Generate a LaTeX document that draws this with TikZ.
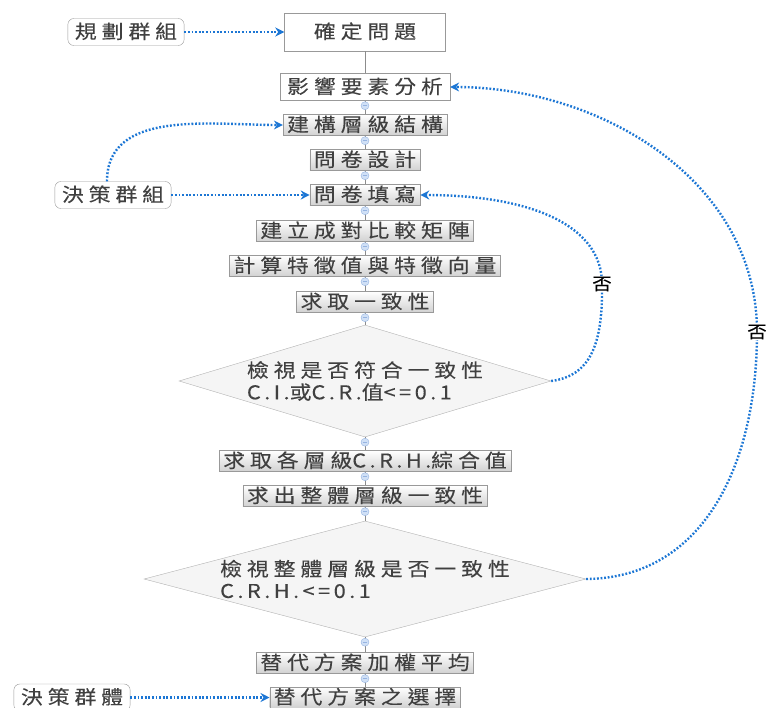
\documentclass[tikz,border=0pt]{standalone}
\usepackage{fontspec}
\setmainfont{Noto Sans CJK TC}[FakeStretch=1.15,LetterSpace=26,FakeBold=0.15]
\newfontfamily\latinpart{Noto Sans CJK TC}[FakeStretch=1.15,LetterSpace=18,FakeBold=0.15]
\usetikzlibrary{shapes.geometric,arrows.meta}
\definecolor{linkblue}{RGB}{28,118,212}
\definecolor{togglefill}{RGB}{208,224,246}
\definecolor{togglerim}{RGB}{150,180,225}
\tikzset{
  box/.style={draw=black!40, top color=white, bottom color=black!18, inner xsep=4pt, inner ysep=2pt,
    text height=15pt, text depth=2pt, minimum height=21pt},
  plain/.style={draw=black!40, fill=white, inner xsep=7pt, text height=15pt, text depth=2pt, minimum height=27pt},
  group/.style={draw=black!40, rounded corners=6pt, fill=white, inner xsep=7pt, text height=15pt, text depth=2pt, minimum height=27pt},
  check/.style={diamond, draw=black!30, fill=black!4, inner sep=0pt, align=left},
  flow/.style={draw=black!45, line width=0.8pt},
  link/.style={draw=linkblue, line width=2.4pt, dash pattern=on 1.8pt off 1.8pt, -{Stealth[length=9pt,width=9pt]}},
  toggle/.style={circle, draw=togglerim, fill=togglefill, minimum size=8pt, inner sep=0pt,
    path picture={\draw[togglerim, line width=0.7pt] ([xshift=-2.2pt]path picture bounding box.center) -- ([xshift=2.2pt]path picture bounding box.center);}},
  nolabel/.style={fill=white, text=black, inner sep=1pt, font=\fontsize{17}{17}\selectfont}
}
\begin{document}
\begin{tikzpicture}[x=1pt, y=-1pt, font=\fontsize{19}{22}\selectfont, text=black!75]
  \useasboundingbox (0,0) rectangle (768,707);

  % main chain
  \node[plain, minimum width=161pt, minimum height=38pt] (q1) at (365,32) {確定問題};
  \node[plain] (q2) at (365,87) {影響要素分析};
  \node[box] (q3) at (365,125) {建構層級結構};
  \node[box] (q4) at (365,160) {問卷設計};
  \node[box] (q5) at (365,195) {問卷填寫};
  \node[box] (q6) at (365,231) {建立成對比較矩陣};
  \node[box] (q7) at (365,266) {計算特徵值與特徵向量};
  \node[box] (q8) at (365,302) {求取一致性};
  \node[check, aspect=3.32, minimum width=372pt, minimum height=112pt] (d1) at (365,381)
    {檢視是否符合一致性\\{\latinpart C.I.}或{\latinpart C.R.}值{\latinpart <=0.1}};
  \node[box] (q9) at (365,461) {求取各層級{\latinpart C.R.H.}綜合值};
  \node[box] (q10) at (365,496) {求出整體層級一致性};
  \node[check, aspect=3.81, minimum width=442pt, minimum height=116pt] (d2) at (365,579)
    {檢視整體層級是否一致性\\{\latinpart C.R.H.<=0.1}};
  \node[box] (q11) at (365,663) {替代方案加權平均};
  \node[box] (q12) at (365,697.5) {替代方案之選擇};

  % groups
  \node[group] (g1) at (126,32) {規劃群組};
  \node[group] (g2) at (113,195) {決策群組};
  \node[group] (g3) at (72,697.5) {決策群體};

  \foreach \a/\b in {q1/q2,q2/q3,q3/q4,q4/q5,q5/q6,q6/q7,q7/q8,q8/d1,d1/q9,q9/q10,q10/d2,d2/q11,q11/q12}
    \draw[flow] (\a) -- (\b);
  \foreach \a in {q2,q3,q4,q5,q6,q7,q8,d1,q9,q10,d2,q11}
    \node[toggle] at ([yshift=-5pt]\a.south) {};

  \draw[link] (g1) -- (q1);
  \draw[link] (g2) -- (q5);
  \draw[link] (g3) -- (q12);
  \draw[link] ([xshift=-6pt]g2.north) to[out=90, in=180] (q3);
  \draw[link] (d1.east) .. controls (590,376) and (603,345) .. (602,284)
    node[nolabel] {否} .. controls (602,225) and (530,195) .. (q5.east);
  \draw[link] (d2.east) .. controls (700,578) and (757,470) .. (757,332)
    node[nolabel] {否} .. controls (757,180) and (600,87) .. (q2.east);
\end{tikzpicture}
\end{document}
